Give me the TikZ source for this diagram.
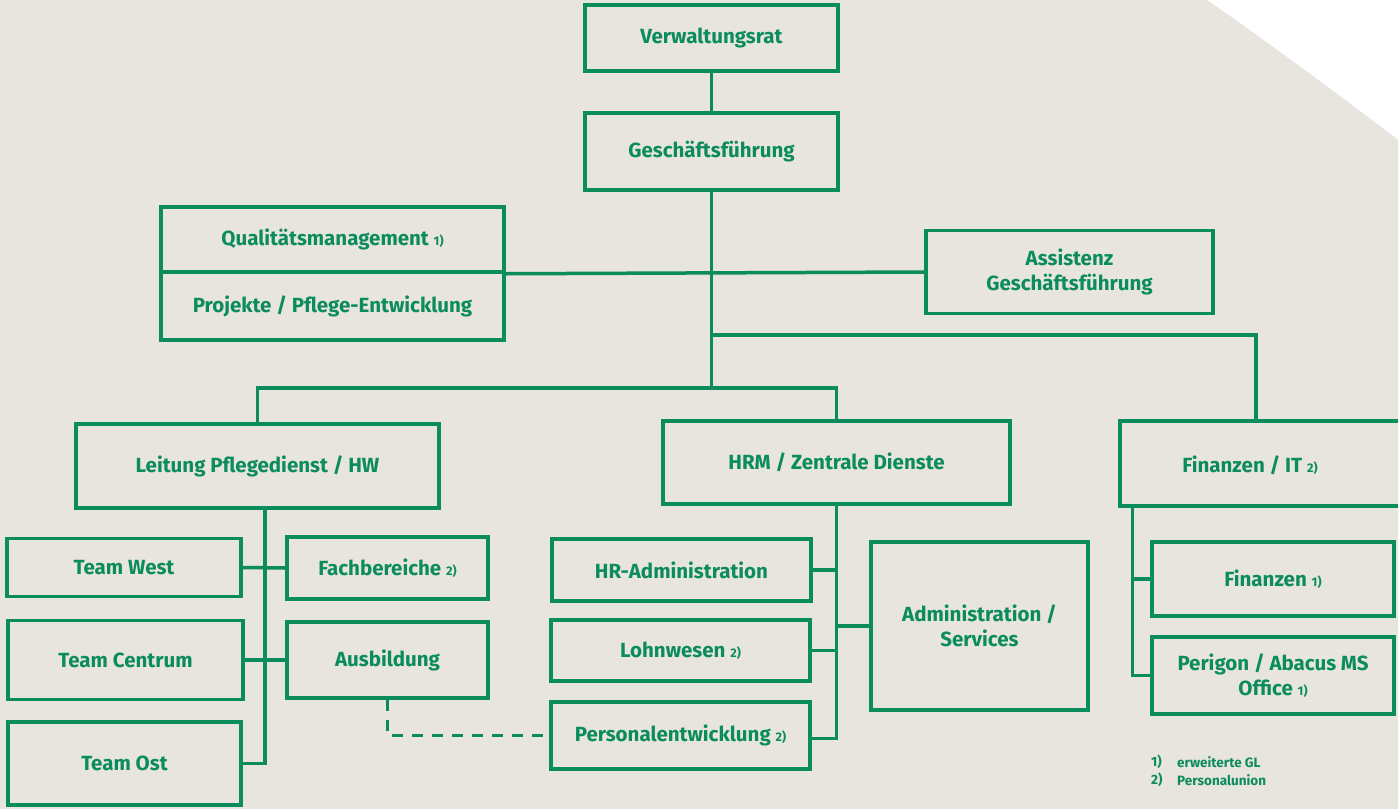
\documentclass[tikz,border=0pt]{standalone}
\usepackage{fontspec}
\setmainfont{Fira Sans}
\definecolor{grn}{HTML}{0B8C5C}
\definecolor{beige}{HTML}{E8E4DE}
\newcommand{\fnm}[1]{{\fontsize{12.5}{13}\selectfont #1}}
\begin{document}
\begin{tikzpicture}[x=1pt,y=-1pt,
  box/.style={draw=grn, line width=3.5pt, inner sep=0pt, text=grn,
    font=\fontsize{20.5}{24.5}\selectfont\bfseries, align=center},
  lbl/.style={inner sep=0pt, text=grn, font=\fontsize{20.5}{24.5}\selectfont\bfseries, align=center},
  conn/.style={draw=grn, line width=3.5pt},
  dconn/.style={draw=grn, line width=3pt, dash pattern=on 11pt off 9pt},
  legend/.style={inner sep=0pt, anchor=west, text=grn, font=\fontsize{13.5}{15}\selectfont\bfseries}]
\useasboundingbox (0,0) rectangle (1398,809);
\fill[white] (0,0) rectangle (1398,809);
\fill[beige] (0,0) -- (1207,0) .. controls (1245,26) and (1340,95) .. (1398,140) -- (1398,809) -- (0,809) -- cycle;

% top
\node[box, minimum width=253, minimum height=66] (vr) at (711.5,38) {Verwaltungsrat};
\node[box, minimum width=253, minimum height=77] (gf) at (711.5,151.5) {Geschäftsführung};
\node[box, minimum width=343, minimum height=65] (qm) at (332.5,239.5) {Qualitätsmanagement \fnm{1)}};
\node[box, minimum width=343, minimum height=68] (pp) at (332.5,306) {Projekte / Pflege-Entwicklung};
\node[box, minimum width=287, minimum height=83] (as) at (1069.5,272) {Assistenz\\Geschäftsführung};

% level 2
\node[box, minimum width=363, minimum height=84] (lp) at (257.5,466) {Leitung Pflegedienst / HW};
\node[box, minimum width=347, minimum height=83] (hrm) at (836.5,462.5) {HRM / Zentrale Dienste};
\node[box, minimum width=290, minimum height=85] (fit) at (1265,463.5) {};
\node[lbl] (fitl) at (1250,465) {Finanzen / IT \fnm{2)}};

% Pflege
\node[box, minimum width=234, minimum height=58] (tw) at (124,567.5) {Team West};
\node[box, minimum width=235, minimum height=79] (tc) at (125.5,660) {Team Centrum};
\node[box, minimum width=233, minimum height=83] (to) at (124.5,763.5) {Team Ost};
\node[box, minimum width=201, minimum height=62] (fb) at (387.5,568) {Fachbereiche \fnm{2)}};
\node[box, minimum width=201, minimum height=76] (au) at (387.5,660) {Ausbildung};

% HRM
\node[box, minimum width=259, minimum height=62] (hra) at (681.5,570) {HR-Administration};
\node[box, minimum width=259, minimum height=61] (lw) at (680.5,650.5) {Lohnwesen \fnm{2)}};
\node[box, minimum width=259, minimum height=67] (pe) at (680.5,735.5) {Personalentwicklung \fnm{2)}};
\node[box, minimum width=217, minimum height=168] (adm) at (979.5,626) {Administration /\\Services};

% Finanzen
\node[box, minimum width=242, minimum height=74] (fin) at (1273,579) {Finanzen \fnm{1)}};
\node[box, minimum width=242, minimum height=77] (per) at (1273,675.5) {Perigon / Abacus MS\\Office \fnm{1)}};

% legend
\node[legend] (l1n) at (1151,762) {1)};
\node[legend] (l1t) at (1177,762) {erweiterte GL};
\node[legend] (l2n) at (1151,780) {2)};
\node[legend] (l2t) at (1177,780) {Personalunion};

% connectors
\coordinate (j1) at (711.5,388);
\coordinate (j2) at (711.5,335);
\draw[conn] (vr.south) -- (gf.north);
\draw[conn] (gf.south) -- (j1);
\draw[conn] (qm.south east) -- (as.west);
\draw[conn] (j2) -| ([xshift=-9pt]fit.north);
\draw[conn] (lp.north) |- (j1) -| (hrm.north);
\draw[conn] ([xshift=7.5pt]lp.south) |- (to.east);
\draw[conn] (tw.east) -- (fb.west);
\draw[conn] (tc.east) -- (au.west);
\draw[conn] (hrm.south) |- ([yshift=-3pt]pe.east);
\draw[conn] (hra.east) -- (hra.east -| hrm.south);
\draw[conn] (lw.east) -- (lw.east -| hrm.south);
\draw[conn] (adm.west) -- (adm.west -| hrm.south);
\draw[conn] ([xshift=14pt]fit.south west) |- (per.west);
\draw[conn] (fin.west) -- ([xshift=-18pt]fin.west);
\draw[dconn] (au.south) |- (pe.west);
\end{tikzpicture}
\end{document}
